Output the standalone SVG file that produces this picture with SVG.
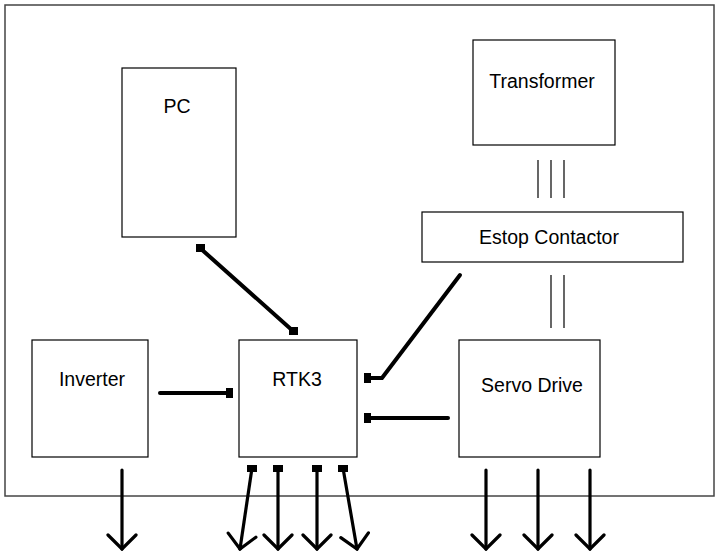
<svg xmlns="http://www.w3.org/2000/svg" width="720" height="554" viewBox="0 0 720 554">
<defs>
<style>
.box{fill:#fff;stroke:#000;stroke-width:1.2}
.lbl{font-family:"Liberation Sans",Arial,sans-serif;font-size:19.5px;fill:#000;text-anchor:middle}
.wire{stroke:#000;stroke-width:4;fill:none;stroke-linecap:round;stroke-linejoin:miter}
.arr{stroke:#000;stroke-width:3.2;fill:none;stroke-linecap:round;marker-end:url(#head)}
.thin{stroke:#000;stroke-width:1.2}
.pad{fill:#000}
</style>
<marker id="head" markerUnits="userSpaceOnUse" viewBox="-16 -16 18 32" refX="0" refY="0" markerWidth="18" markerHeight="32" orient="auto">
<path d="M-14,-14 L0,0 L-14,14" fill="none" stroke="#000" stroke-width="3.2" stroke-linecap="round" stroke-linejoin="miter"/>
</marker>
</defs>
<rect width="720" height="554" fill="#fff"/>
<rect id="frame" x="5" y="5" width="709" height="491" fill="none" stroke="#444" stroke-width="1.5"/>
<g id="transformer"><rect class="box" x="473" y="40" width="142" height="105"/><text class="lbl" x="542" y="88">Transformer</text></g>
<g id="pc"><rect class="box" x="122" y="68" width="114" height="169"/><text class="lbl" x="177" y="113">PC</text></g>
<g id="estop"><rect class="box" x="422" y="212" width="261" height="50"/><text class="lbl" x="549" y="244">Estop Contactor</text></g>
<g id="inverter"><rect class="box" x="32" y="340" width="116" height="117"/><text class="lbl" x="92" y="386">Inverter</text></g>
<g id="rtk3"><rect class="box" x="239" y="340" width="118" height="117"/><text class="lbl" x="297" y="386">RTK3</text></g>
<g id="servo"><rect class="box" x="459" y="340" width="141" height="117"/><text class="lbl" x="532" y="392">Servo Drive</text></g>
<g id="connectors">
<line class="thin" x1="538" y1="160" x2="538" y2="198"/>
<line class="thin" x1="551" y1="160" x2="551" y2="198"/>
<line class="thin" x1="564" y1="160" x2="564" y2="198"/>
<line class="thin" x1="551" y1="275" x2="551" y2="328"/>
<line class="thin" x1="564" y1="275" x2="564" y2="328"/>
<line class="wire" x1="200" y1="248" x2="293" y2="331"/>
<rect class="pad" x="196" y="244" width="9" height="8"/>
<rect class="pad" x="289" y="327" width="9" height="8"/>
<polyline class="wire" points="460,275 382,378 367,378"/>
<rect class="pad" x="364" y="373" width="7" height="10"/>
<line class="wire" x1="448" y1="418" x2="367" y2="418"/>
<rect class="pad" x="364" y="413" width="7" height="10"/>
<line class="wire" x1="160" y1="393" x2="229" y2="393"/>
<rect class="pad" x="226" y="388" width="7" height="10"/>
<line class="arr" x1="252" y1="468" x2="240" y2="549"/>
<line class="arr" x1="278" y1="468" x2="278" y2="549"/>
<line class="arr" x1="317" y1="468" x2="317" y2="549"/>
<line class="arr" x1="343" y1="468" x2="357" y2="549"/>
<rect class="pad" x="247" y="465" width="10" height="7"/>
<rect class="pad" x="273" y="465" width="10" height="7"/>
<rect class="pad" x="312" y="465" width="10" height="7"/>
<rect class="pad" x="338" y="465" width="10" height="7"/>
<line class="arr" x1="122" y1="470" x2="122" y2="549"/>
<line class="arr" x1="486" y1="470" x2="486" y2="549"/>
<line class="arr" x1="538" y1="470" x2="538" y2="549"/>
<line class="arr" x1="590" y1="470" x2="590" y2="549"/>
</g>
</svg>
